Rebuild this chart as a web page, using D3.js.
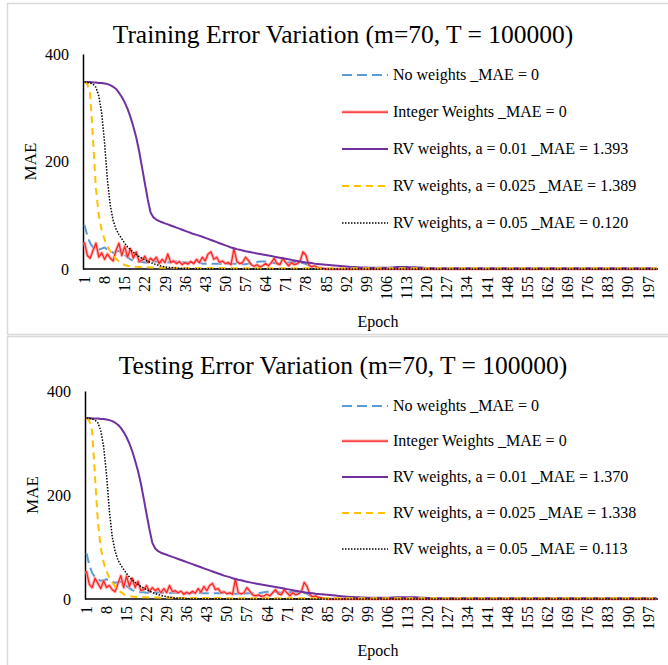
<!DOCTYPE html>
<html>
<head>
<meta charset="utf-8">
<script src="https://cdn.jsdelivr.net/npm/d3@7"></script>
<style>
  html, body { margin: 0; padding: 0; background: #fff; }
  svg { display: block; font-family: "Liberation Serif", "Times New Roman", serif; }
</style>
</head>
<body>
<div id="chart"></div>
<script>
// epochs 1..200
var epochs = d3.range(1, 201);
var yTicks = [0, 200, 400];

var seriesNames = [
  "No weights _MAE = 0",
  "Integer Weights _MAE = 0",
  "RV weights, a = 0.01 _MAE = 1.393",
  "RV weights, a = 0.025 _MAE = 1.389",
  "RV weights, a = 0.05 _MAE = 0.120"
];
var seriesNamesTest = [
  "No weights _MAE = 0",
  "Integer Weights _MAE = 0",
  "RV weights, a = 0.01 _MAE = 1.370",
  "RV weights, a = 0.025 _MAE = 1.338",
  "RV weights, a = 0.05 _MAE = 0.113"
];

// ---- training ----
var noWeightsTrain = [
  82,62,48,40,38,36,38,40,36,33, 30,32,34,30,26,22,18,15,14,13,
  13,12,12,13,14,14,13,12,12,12, 13,14,14,13,13,12,12,13,14,14,
  12,10,10,10,10,10,10,10,9,10, 10,10,10,10,9,9,9,10,11,12,
  13,14,14,14,13,12,11,10,10,10, 11,12,13,13,13,12,11,9,7,5,
  4,3,2,1.5,1,0.5,0.3,0.2,0.1,0, 0,0,0,0,0,0,0,0,0,0,
  0,0,0,0,0,0,0,0,0,0, 0,0,0,0,0,0,0,0,0,0,
  0,0,0,0,0,0,0,0,0,0, 0,0,0,0,0,0,0,0,0,0,
  0,0,0,0,0,0,0,0,0,0, 0,0,0,0,0,0,0,0,0,0,
  0,0,0,0,0,0,0,0,0,0, 0,0,0,0,0,0,0,0,0,0,
  0,0,0,0,0,0,0,0,0,0, 0,0,0,0,0,0,0,0,0,0
];
var integerTrain = [
  50,25,20,35,48,22,30,18,28,20, 15,35,48,25,42,22,38,20,32,14,
  16,24,12,20,15,22,10,18,12,28, 12,15,10,14,8,12,9,14,10,18,
  12,22,15,28,32,18,22,12,15,10, 12,8,38,14,10,12,22,16,8,5,
  8,4,6,10,6,12,20,10,8,20, 12,6,12,8,10,14,32,26,8,4,
  6,3,2,1,0,0,0,0,0,0, 0,0,0,0,0,0,0,0,0,0,
  0,0,0,0,0,0,0,0,0,0, 0,0,0,0,0,0,0,0,0,0,
  0,0,0,0,0,0,0,0,0,0, 0,0,0,0,0,0,0,0,0,0,
  0,0,0,0,0,0,0,0,0,0, 0,0,0,0,0,0,0,0,0,0,
  0,0,0,0,0,0,0,0,0,0, 0,0,0,0,0,0,0,0,0,0,
  0,0,0,0,0,0,0,0,0,0, 0,0,0,0,0,0,0,0,0,0
];
var rv01Train = [
  348,348,348,347,347,346,346,345,344,342, 339,335,328,320,310,298,283,265,245,220,
  190,160,130,105,96,92,89,87,85,83, 81,79,77,75,73,71,69,67,65,63.5,
  62,60,58,56,54,52,50,48,46,44, 42,40,38.5,37,36,34.5,33,32,31,30,
  29,28,27,26,25,24,23,22,21,20, 19,18,17,16,15,14,13,12,11.5,11,
  10,9.5,9,8.5,8,7.5,7,6.5,6,5.5, 5,4.5,4,3.8,3.5,3.2,3,2.8,2.6,2.5,
  2.4,2.4,2.3,2.3,2.2,2.3,2.5,2.8,3.2,3.5, 3.6,3.6,3.5,3.4,3.3,3.2,3,2.6,2.2,1.9,
  1.7,1.6,1.5,1.5,1.4,1.4,1.4,1.5,1.4,1.4, 1.4,1.3,1.4,1.4,1.5,1.4,1.4,1.4,1.3,1.4,
  1.4,1.4,1.5,1.4,1.4,1.4,1.4,1.3,1.4,1.4, 1.4,1.5,1.4,1.4,1.4,1.4,1.4,1.3,1.4,1.4,
  1.4,1.4,1.4,1.5,1.4,1.4,1.4,1.4,1.4,1.4, 1.3,1.4,1.4,1.4,1.4,1.5,1.4,1.4,1.4,1.4,
  1.4,1.4,1.4,1.4,1.3,1.4,1.4,1.4,1.4,1.4, 1.4,1.5,1.4,1.4,1.4,1.4,1.4,1.4,1.4,1.393
];
var rv025Train = [
  348,344,325,240,150,100,72,55,42,33, 25,19,14,10,7.5,6,5,4.5,4,3.8,
  3.5,3.4,3.2,3,3,2.8,2.6,2.5,2.4,2.3, 2.2,2.2,2.1,2.1,2,2,2,1.9,1.9,1.9,
  1.9,1.8,1.8,1.8,1.8,1.8,1.7,1.7,1.7,1.7, 1.7,1.7,1.6,1.6,1.6,1.6,1.6,1.6,1.6,1.6,
  1.6,1.6,1.5,1.5,1.5,1.5,1.5,1.5,1.5,1.5, 1.5,1.5,1.5,1.5,1.5,1.5,1.5,1.5,1.5,1.5,
  1.5,1.5,1.5,1.5,1.4,1.4,1.4,1.4,1.4,1.4, 1.4,1.4,1.4,1.4,1.4,1.4,1.4,1.4,1.4,1.4,
  1.4,1.4,1.4,1.4,1.4,1.4,1.4,1.4,1.4,1.4, 1.4,1.4,1.4,1.4,1.4,1.4,1.4,1.4,1.4,1.4,
  1.4,1.4,1.4,1.4,1.4,1.4,1.4,1.4,1.4,1.4, 1.4,1.4,1.4,1.4,1.4,1.4,1.4,1.4,1.4,1.4,
  1.4,1.4,1.4,1.4,1.4,1.4,1.4,1.4,1.4,1.4, 1.4,1.4,1.4,1.4,1.4,1.4,1.4,1.4,1.4,1.4,
  1.4,1.4,1.4,1.4,1.4,1.4,1.4,1.4,1.4,1.4, 1.4,1.4,1.4,1.4,1.4,1.4,1.4,1.4,1.4,1.4,
  1.4,1.4,1.4,1.4,1.4,1.4,1.4,1.4,1.4,1.4, 1.4,1.4,1.4,1.4,1.4,1.4,1.4,1.4,1.4,1.389
];
var rv05Train = [
  348,347,346,344,338,322,290,235,165,118, 90,74,64,56,48,41,36,31,27,23,
  20,17,14,12,10,8,6.5,5,4,3.2, 2.6,2.1,1.7,1.4,1.1,0.9,0.7,0.6,0.5,0.4,
  0.4,0.35,0.3,0.3,0.3,0.25,0.25,0.25,0.2,0.2, 0.2,0.2,0.2,0.2,0.2,0.2,0.2,0.2,0.2,0.2,
  0.2,0.2,0.2,0.2,0.2,0.2,0.15,0.15,0.15,0.15, 0.15,0.15,0.15,0.15,0.15,0.15,0.15,0.15,0.15,0.15,
  0.15,0.15,0.15,0.15,0.15,0.15,0.15,0.15,0.15,0.15, 0.13,0.13,0.13,0.13,0.13,0.13,0.13,0.13,0.13,0.13,
  0.13,0.13,0.13,0.13,0.13,0.13,0.13,0.13,0.13,0.13, 0.13,0.13,0.13,0.13,0.13,0.13,0.13,0.13,0.13,0.13,
  0.12,0.12,0.12,0.12,0.12,0.12,0.12,0.12,0.12,0.12, 0.12,0.12,0.12,0.12,0.12,0.12,0.12,0.12,0.12,0.12,
  0.12,0.12,0.12,0.12,0.12,0.12,0.12,0.12,0.12,0.12, 0.12,0.12,0.12,0.12,0.12,0.12,0.12,0.12,0.12,0.12,
  0.12,0.12,0.12,0.12,0.12,0.12,0.12,0.12,0.12,0.12, 0.12,0.12,0.12,0.12,0.12,0.12,0.12,0.12,0.12,0.12,
  0.12,0.12,0.12,0.12,0.12,0.12,0.12,0.12,0.12,0.12, 0.12,0.12,0.12,0.12,0.12,0.12,0.12,0.12,0.12,0.12
];

// ---- testing ----
var noWeightsTest = [
  88,66,50,42,38,35,36,38,36,34, 31,33,33,29,25,21,17,15,14,13,
  13,12,12,12,13,13,12,12,11,11, 12,12,12,12,11,11,11,12,12,12,
  11,11,11,11,11,11,11,11,11,11, 11,11,10,10,10,10,11,11,11,11,
  11,12,13,14,14,14,14,13,12,12, 12,13,14,14,14,13,12,10,7,5,
  4,3,2,1.5,1,0.5,0.3,0.2,0.1,0, 0,0,0,0,0,0,0,0,0,0,
  0,0,0,0,0,0,0,0,0,0, 0,0,0,0,0,0,0,0,0,0,
  0,0,0,0,0,0,0,0,0,0, 0,0,0,0,0,0,0,0,0,0,
  0,0,0,0,0,0,0,0,0,0, 0,0,0,0,0,0,0,0,0,0,
  0,0,0,0,0,0,0,0,0,0, 0,0,0,0,0,0,0,0,0,0,
  0,0,0,0,0,0,0,0,0,0, 0,0,0,0,0,0,0,0,0,0
];
var integerTest = [
  54,28,22,40,30,20,35,22,26,18, 14,30,45,22,44,24,40,22,34,16,
  18,26,14,22,16,20,12,20,12,26, 14,16,12,15,9,13,10,15,11,20,
  13,24,16,26,30,18,20,12,14,10, 12,9,38,12,10,12,22,15,8,6,
  8,5,6,9,6,12,18,10,8,18, 12,6,12,8,10,14,32,24,8,4,
  6,3,2,1,0,0,0,0,0,0, 0,0,0,0,0,0,0,0,0,0,
  0,0,0,0,0,0,0,0,0,0, 0,0,0,0,0,0,0,0,0,0,
  0,0,0,0,0,0,0,0,0,0, 0,0,0,0,0,0,0,0,0,0,
  0,0,0,0,0,0,0,0,0,0, 0,0,0,0,0,0,0,0,0,0,
  0,0,0,0,0,0,0,0,0,0, 0,0,0,0,0,0,0,0,0,0,
  0,0,0,0,0,0,0,0,0,0, 0,0,0,0,0,0,0,0,0,0
];
var rv01Test = [
  348,348,347,347,347,346,346,345,344,342, 339,335,329,321,311,299,284,266,246,222,
  193,163,134,108,97,92,89,87,85,83, 81,79,77,75,73,71,69,67,65,63,
  61,59,57,55,53,51,49,47,45,43.5, 42,40,38.5,37,36,34.5,33,32,31,30,
  29,28,27,26,25,24,23,22,21,20, 19,18,17,16,15,14,13,12,11.5,11,
  10,9.5,9,8.5,8,7.5,7,6.5,6,5.5, 5,4.5,4,3.8,3.5,3.2,3,2.8,2.6,2.5,
  2.4,2.4,2.3,2.3,2.2,2.3,2.5,2.8,3.2,3.5, 3.6,3.6,3.5,3.4,3.3,3.2,3,2.6,2.2,1.9,
  1.7,1.6,1.5,1.5,1.4,1.4,1.4,1.5,1.4,1.4, 1.4,1.3,1.4,1.4,1.5,1.4,1.4,1.4,1.3,1.4,
  1.4,1.4,1.5,1.4,1.4,1.4,1.4,1.3,1.4,1.4, 1.4,1.5,1.4,1.4,1.4,1.4,1.4,1.3,1.4,1.4,
  1.4,1.4,1.4,1.5,1.4,1.4,1.4,1.4,1.4,1.4, 1.3,1.4,1.4,1.4,1.4,1.5,1.4,1.4,1.4,1.4,
  1.4,1.4,1.4,1.4,1.3,1.4,1.4,1.4,1.4,1.4, 1.4,1.5,1.4,1.4,1.4,1.4,1.4,1.4,1.4,1.37
];
var rv025Test = [
  348,343,322,235,148,98,70,54,41,32, 24,18,13,9.5,7.2,5.8,4.8,4.3,3.9,3.7,
  3.4,3.3,3.1,3,2.9,2.7,2.6,2.5,2.4,2.3, 2.2,2.1,2.1,2,2,2,1.9,1.9,1.9,1.8,
  1.8,1.8,1.8,1.7,1.7,1.7,1.7,1.7,1.6,1.6, 1.6,1.6,1.6,1.6,1.6,1.5,1.5,1.5,1.5,1.5,
  1.5,1.5,1.5,1.5,1.5,1.5,1.5,1.4,1.4,1.4, 1.4,1.4,1.4,1.4,1.4,1.4,1.4,1.4,1.4,1.4,
  1.4,1.4,1.4,1.4,1.4,1.4,1.4,1.4,1.4,1.4, 1.4,1.4,1.4,1.4,1.4,1.4,1.4,1.4,1.4,1.4,
  1.4,1.4,1.4,1.4,1.4,1.4,1.4,1.4,1.4,1.4, 1.4,1.4,1.4,1.4,1.4,1.4,1.4,1.4,1.4,1.4,
  1.4,1.4,1.4,1.4,1.4,1.4,1.4,1.4,1.4,1.4, 1.4,1.4,1.4,1.4,1.4,1.4,1.4,1.4,1.4,1.4,
  1.4,1.4,1.4,1.4,1.4,1.4,1.4,1.4,1.4,1.4, 1.4,1.4,1.4,1.4,1.4,1.4,1.4,1.4,1.4,1.4,
  1.4,1.4,1.4,1.4,1.4,1.4,1.4,1.4,1.4,1.4, 1.4,1.4,1.4,1.4,1.4,1.4,1.4,1.4,1.4,1.4,
  1.4,1.4,1.4,1.4,1.4,1.4,1.4,1.4,1.4,1.4, 1.4,1.4,1.4,1.4,1.4,1.4,1.4,1.4,1.4,1.338
];
var rv05Test = [
  348,347,346,344,339,324,293,240,170,120, 92,75,65,57,49,42,37,32,28,24,
  21,18,15,12.5,10.5,8.5,7,5.5,4.3,3.4, 2.7,2.2,1.8,1.5,1.2,0.9,0.7,0.6,0.5,0.4,
  0.4,0.35,0.3,0.3,0.3,0.25,0.25,0.25,0.2,0.2, 0.2,0.2,0.2,0.2,0.2,0.2,0.2,0.2,0.2,0.2,
  0.2,0.2,0.2,0.2,0.2,0.2,0.15,0.15,0.15,0.15, 0.15,0.15,0.15,0.15,0.15,0.15,0.15,0.15,0.15,0.15,
  0.15,0.15,0.15,0.15,0.15,0.15,0.15,0.15,0.15,0.15, 0.12,0.12,0.12,0.12,0.12,0.12,0.12,0.12,0.12,0.12,
  0.12,0.12,0.12,0.12,0.12,0.12,0.12,0.12,0.12,0.12, 0.12,0.12,0.12,0.12,0.12,0.12,0.12,0.12,0.12,0.12,
  0.11,0.11,0.11,0.11,0.11,0.11,0.11,0.11,0.11,0.11, 0.11,0.11,0.11,0.11,0.11,0.11,0.11,0.11,0.11,0.11,
  0.11,0.11,0.11,0.11,0.11,0.11,0.11,0.11,0.11,0.11, 0.11,0.11,0.11,0.11,0.11,0.11,0.11,0.11,0.11,0.11,
  0.11,0.11,0.11,0.11,0.11,0.11,0.11,0.11,0.11,0.11, 0.11,0.11,0.11,0.11,0.11,0.11,0.11,0.11,0.11,0.11,
  0.11,0.11,0.11,0.11,0.11,0.11,0.11,0.11,0.11,0.11, 0.11,0.11,0.11,0.11,0.11,0.11,0.11,0.11,0.11,0.113
];

var STYLES = [
  { color: "#5B9BD5", width: 2, dash: "10,5" },
  { color: "#FF2020", width: 1.25, dash: null, halo: "#FF9C9C" },
  { color: "#7030A0", width: 2, dash: null },
  { color: "#FFC000", width: 2, dash: "7,5" },
  { color: "#000000", width: 1.5, dash: "1.5,1.5" }
];
var SERIF = "'Liberation Serif', 'Times New Roman', serif";

var W = 668, H = 665;
var svg = d3.select("#chart").append("svg")
  .attr("width", W)
  .attr("height", H);

function drawPanel(cfg, series, names) {
  // border
  svg.append("rect")
    .attr("x", cfg.boxX).attr("y", cfg.boxY)
    .attr("width", cfg.boxW).attr("height", cfg.boxH)
    .attr("fill", "#fff")
    .attr("stroke", "#D9D9D9")
    .attr("stroke-width", 1.5);

  var x = d3.scalePoint().domain(epochs).range([cfg.left, cfg.right]).padding(0.5);
  var y = d3.scaleLinear().domain([0, 400]).range([cfg.y0, cfg.y400]);

  svg.append("text")
    .attr("x", cfg.titleX).attr("y", cfg.titleY)
    .attr("text-anchor", "middle")
    .attr("font-family", SERIF)
    .attr("font-size", "25.5px")
    .attr("fill", "#000")
    .text(cfg.title);

  // y axis
  var gy = svg.append("g")
    .attr("transform", "translate(" + cfg.left + ",0)")
    .call(d3.axisLeft(y).tickValues(yTicks).tickSize(0).tickSizeOuter(0).tickPadding(14));
  gy.select(".domain").attr("stroke", "#000").attr("stroke-width", 1.5);
  gy.selectAll("text").attr("font-size", "16px").attr("font-family", SERIF).attr("fill", "#000");

  // x axis
  var gx = svg.append("g")
    .attr("transform", "translate(0," + cfg.y0 + ")")
    .call(d3.axisBottom(x).tickValues(epochs.filter((e, i) => i % 7 === 0)).tickSize(0).tickSizeOuter(0));
  gx.select(".domain").attr("stroke", "#000").attr("stroke-width", 1.5)
    .attr("d", "M" + cfg.left + ",0H" + cfg.right);
  gx.selectAll("text")
    .attr("font-size", "16px")
    .attr("font-family", SERIF)
    .attr("fill", "#000")
    .attr("transform", "rotate(-90)")
    .attr("text-anchor", "end")
    .attr("x", -7)
    .attr("y", 0)
    .attr("dy", "0.32em");

  // axis titles
  svg.append("text")
    .attr("x", cfg.epochX).attr("y", cfg.epochY)
    .attr("text-anchor", "middle")
    .attr("font-family", SERIF)
    .attr("font-size", "16px")
    .text("Epoch");
  svg.append("text")
    .attr("transform", "translate(" + cfg.maeX + "," + ((cfg.y0 + cfg.y400) / 2) + ") rotate(-90)")
    .attr("text-anchor", "middle")
    .attr("font-family", SERIF)
    .attr("font-size", "17px")
    .text("MAE");

  var line = d3.line()
    .x((d, i) => x(epochs[i]))
    .y(d => y(d));

  series.forEach(function (s, k) {
    var st = STYLES[k];
    if (st.halo) {
      svg.append("path").datum(s)
        .attr("fill", "none")
        .attr("stroke", st.halo)
        .attr("stroke-opacity", 0.75)
        .attr("stroke-width", 3.2)
        .attr("stroke-linejoin", "round")
        .attr("d", line);
    }
    svg.append("path").datum(s)
      .attr("fill", "none")
      .attr("stroke", st.color)
      .attr("stroke-width", st.width)
      .attr("stroke-dasharray", st.dash)
      .attr("stroke-linejoin", "round")
      .attr("d", line);
  });

  // legend
  names.forEach(function (name, k) {
    var st = STYLES[k];
    var ly = cfg.legendY[k];
    if (st.halo) {
      svg.append("line")
        .attr("x1", 342).attr("x2", 388).attr("y1", ly).attr("y2", ly)
        .attr("stroke", st.halo).attr("stroke-opacity", 0.75).attr("stroke-width", 3.2);
    }
    svg.append("line")
      .attr("x1", 342).attr("x2", 388).attr("y1", ly).attr("y2", ly)
      .attr("stroke", st.color)
      .attr("stroke-width", st.width)
      .attr("stroke-dasharray", st.dash);
    svg.append("text")
      .attr("x", 393).attr("y", ly)
      .attr("dy", "0.32em")
      .attr("font-family", SERIF)
      .attr("font-size", "16px")
      .text(name);
  });
}

drawPanel({
  boxX: 7.5, boxY: 3.5, boxW: 680, boxH: 331,
  left: 83, right: 658, y0: 269, y400: 54,
  title: "Training Error Variation (m=70, T = 100000)",
  titleX: 343, titleY: 43,
  epochX: 378, epochY: 327, maeX: 36,
  legendY: [75, 112, 149, 186, 223]
}, [noWeightsTrain, integerTrain, rv01Train, rv025Train, rv05Train], seriesNames);

drawPanel({
  boxX: 7.5, boxY: 336.5, boxW: 680, boxH: 340,
  left: 85, right: 658, y0: 599, y400: 391,
  title: "Testing Error Variation (m=70, T = 100000)",
  titleX: 343, titleY: 374,
  epochX: 378, epochY: 656, maeX: 38,
  legendY: [406, 441, 477, 513, 549]
}, [noWeightsTest, integerTest, rv01Test, rv025Test, rv05Test], seriesNamesTest);
</script>
</body>
</html>
